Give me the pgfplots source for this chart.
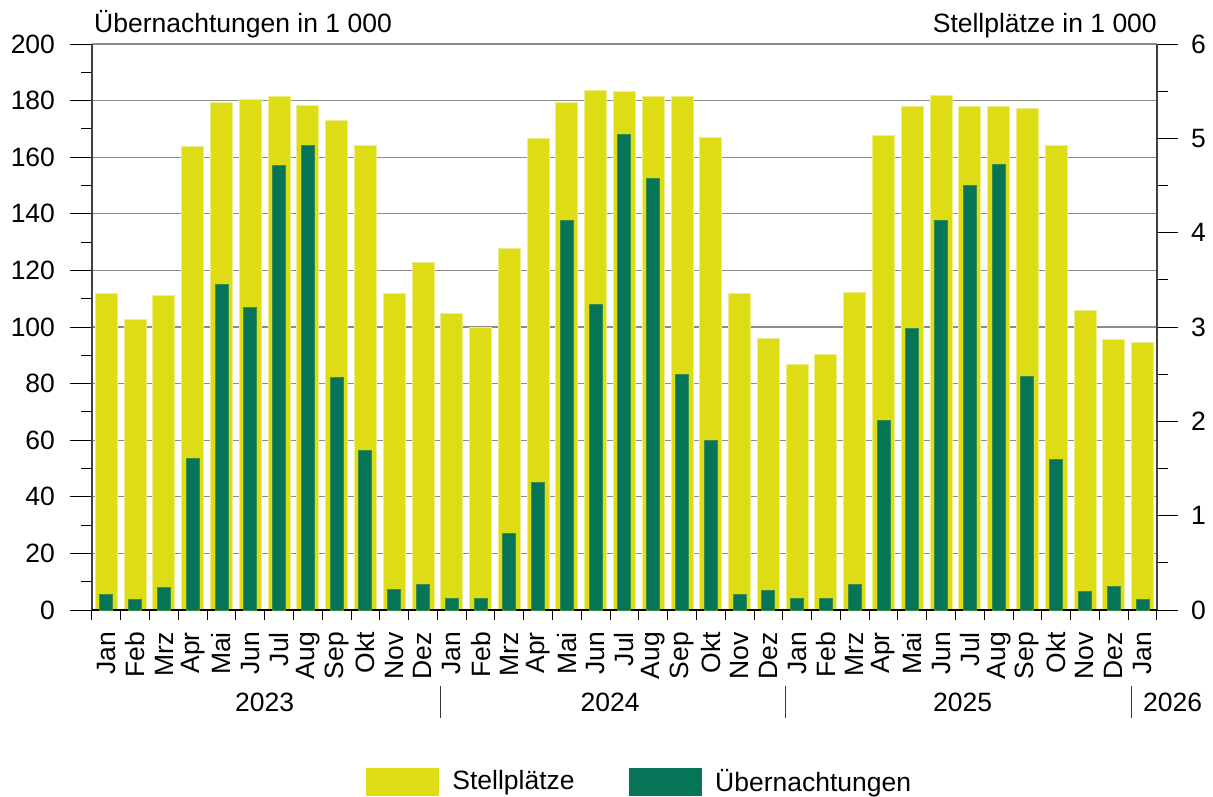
\documentclass[border=0pt]{standalone}
\usepackage{fontspec}
\setmainfont{Liberation Sans}
\usepackage{pgfplots}
\usepackage{pgfplotstable}
\pgfplotsset{compat=1.18}
\definecolor{yel}{RGB}{222,220,20}
\definecolor{grn}{RGB}{6,116,87}

% Stellplaetze in 1000 (right axis)
\pgfplotstableread{
idx val
0 3.35
1 3.075
2 3.335
3 4.91
4 5.38
5 5.415
6 5.44
7 5.35
8 5.19
9 4.92
10 3.36
11 3.685
12 3.145
13 2.99
14 3.83
15 5.0
16 5.38
17 5.505
18 5.5
19 5.44
20 5.445
21 5.01
22 3.35
23 2.88
24 2.6
25 2.71
26 3.365
27 5.025
28 5.34
29 5.45
30 5.34
31 5.34
32 5.32
33 4.925
34 3.18
35 2.865
36 2.835
}\stell

% Uebernachtungen in 1000 (left axis)
\pgfplotstableread{
idx val
0 5.6
1 3.6
2 8.0
3 53.6
4 115.1
5 107
6 156.9
7 164.3
8 82.1
9 56.2
10 7.1
11 9.0
12 4.2
13 4.0
14 27
15 45.1
16 137.6
17 107.9
18 168.1
19 152.4
20 83.3
21 60
22 5.6
23 7
24 4.0
25 4.0
26 9.0
27 66.8
28 99.6
29 137.6
30 149.9
31 157.4
32 82.4
33 53.1
34 6.5
35 8.2
36 3.8
}\ueber

\begin{document}
\fontsize{26.5}{31}\selectfont
\begin{tikzpicture}[font=\fontsize{26.5}{31}\selectfont]
\useasboundingbox (-92pt,-186pt) rectangle (1121pt,610pt);
\pgfplotsset{
  base/.style={at={(0pt,0pt)}, anchor=south west, scale only axis,
    width=1065pt, height=566pt, xmin=-0.5, xmax=36.5, clip=false,
    /pgf/number format/assume math mode=true,
    tick align=outside, tick style={black, line width=1pt}},
  mylegend/.style={legend image code/.code={\fill[##1, draw=none] (0pt,-14pt) rectangle (73pt,14pt); \path (84pt,0pt);}}
}

% Axis 1: grid, left y axis, left title
\begin{axis}[base, ymin=0, ymax=200, axis x line=none, axis y line*=left,
  ytick={0,20,...,200}, minor ytick={10,30,...,190},
  major tick length=22pt, minor tick length=11pt,
  ymajorgrids, major grid style={line width=1.3pt, black!45},
  y axis line style={-, line width=1.2pt, black!75},
  yticklabel style={xshift=-6pt}]
\addplot[draw=none] coordinates {(0,0)};
\node[anchor=base west, inner sep=0pt, xshift=2pt, yshift=12pt] at (rel axis cs:0,1) {Übernachtungen in 1~000};
\end{axis}

% Axis 2: Stellplaetze (right axis)
\begin{axis}[base, ymin=0, ymax=6, axis x line=none, axis y line*=right,
  ytick={0,...,6}, minor ytick={0.5,1.5,...,5.5},
  major tick length=21pt, minor tick length=11pt,
  y axis line style={-, line width=1.2pt, black!75},
  yticklabel style={xshift=4pt}]
\addplot[ybar, bar width=22pt, bar shift=0pt, fill=yel, draw=yel!50!white, line width=1pt]
  table[x=idx, y=val] {\stell};
\node[anchor=base east, inner sep=0pt, xshift=0pt, yshift=12pt] at (rel axis cs:1,1) {Stellplätze in 1~000};
\end{axis}

% Axis 3: Uebernachtungen (left axis), x axis, legend
\begin{axis}[base, ymin=0, ymax=200, axis y line=none, axis x line*=bottom,
  xtick={0,...,36},
  xticklabels={Jan,Feb,Mrz,Apr,Mai,Jun,Jul,Aug,Sep,Okt,Nov,Dez,
               Jan,Feb,Mrz,Apr,Mai,Jun,Jul,Aug,Sep,Okt,Nov,Dez,
               Jan,Feb,Mrz,Apr,Mai,Jun,Jul,Aug,Sep,Okt,Nov,Dez,Jan},
  major tick length=0pt,
  minor xtick={-0.5,0.5,...,36.5}, minor tick length=10pt,
  x axis line style={-, line width=1.2pt, black},
  xticklabel style={rotate=90, anchor=east, inner xsep=22pt},
  legend columns=2,
  legend style={at={(0.2573,-0.304)}, anchor=west, draw=none, fill=none,
    inner sep=0pt,
    /tikz/every even column/.append style={column sep=52pt}},
  legend cell align=left]
\addlegendimage{mylegend, fill=yel}
\addlegendentry{Stellplätze}
\addplot[ybar, bar width=13pt, bar shift=0pt, fill=grn, draw=grn!75!yel, line width=1pt, mylegend]
  table[x=idx, y=val] {\ueber};
\addlegendentry{Übernachtungen}
\node[yshift=-92pt] at (axis cs:5.5,0) {2023};
\node[yshift=-92pt] at (axis cs:17.5,0) {2024};
\node[yshift=-92pt] at (axis cs:29.75,0) {2025};
\node[anchor=west, yshift=-92pt, xshift=6pt] at (axis cs:35.5,0) {2026};
\draw[black!80, line width=1.2pt] ([xshift=3pt,yshift=-76pt]axis cs:11.5,0) -- ([xshift=3pt,yshift=-108pt]axis cs:11.5,0);
\draw[black!80, line width=1.2pt] ([xshift=3pt,yshift=-76pt]axis cs:23.5,0) -- ([xshift=3pt,yshift=-108pt]axis cs:23.5,0);
\draw[black!80, line width=1.2pt] ([xshift=3pt,yshift=-76pt]axis cs:35.5,0) -- ([xshift=3pt,yshift=-108pt]axis cs:35.5,0);
\end{axis}
\end{tikzpicture}
\end{document}
